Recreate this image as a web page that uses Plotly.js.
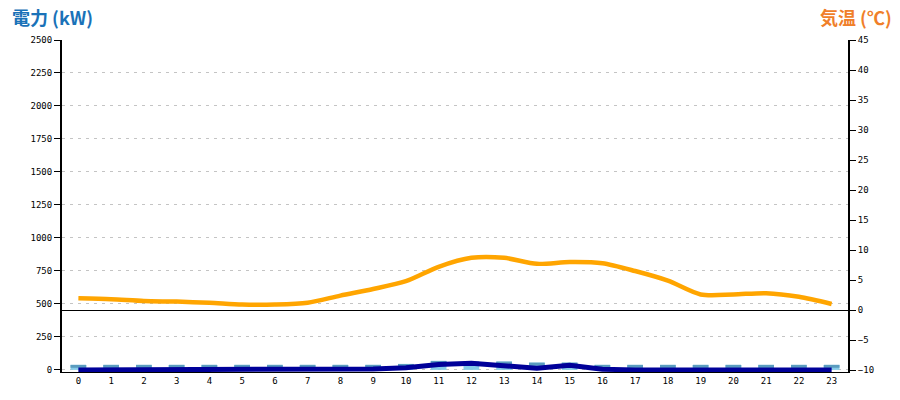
<!DOCTYPE html>
<html>
<head>
<meta charset="utf-8">
<script src="https://cdn.plot.ly/plotly-3.0.1.min.js"></script>
<style>html,body{margin:0;padding:0;background:#fff;}#chart{width:900px;height:400px;}</style>
</head>
<body>
<div id="chart"></div>
<script>
// Data
const hours = ["0","1","2","3","4","5","6","7","8","9","10","11","12","13","14","15","16","17","18","19","20","21","22","23"];
const temperature = [1.95,1.8,1.5,1.4,1.2,0.9,0.9,1.2,2.4,3.5,4.8,7.2,8.7,8.7,7.7,8.0,7.8,6.5,4.9,2.6,2.6,2.8,2.2,1.0];
const power = [0,0,0,0,0,0,0,0,0,7,17,40,50,30,12,35,5,0,0,0,0,0,0,0];
const barValues = [38,38,38,38,38,38,38,38,38,38,45,68,63,63,55,55,38,38,38,38,38,38,38,38];
const capHeight = 22;
const capValues = barValues.map(() => capHeight);
const capBase = barValues.map(v => v - capHeight);
const leftTicks = [0,250,500,750,1000,1250,1500,1750,2000,2250,2500];
const rightTicks = [-10,-5,0,5,10,15,20,25,30,35,40,45];

const tickFont = {family: "DejaVu Sans Mono", size: 9, color: "#000"};

const traces = [
  {type: "bar", x: hours, y: barValues, marker: {color: "#86cbe8"}, width: 0.48, hoverinfo: "skip", yaxis: "y"},
  {type: "bar", x: hours, y: capValues, base: capBase, marker: {color: "#5a9cbf"}, width: 0.48, hoverinfo: "skip", yaxis: "y"},
  {type: "scatter", mode: "lines", x: hours, y: power, line: {color: "#000099", width: 5}, yaxis: "y"},
  {type: "scatter", mode: "lines", x: hours, y: temperature, line: {color: "#FFA500", width: 4.5, shape: "spline", smoothing: 0.8}, yaxis: "y2"}
];

const layout = {
  width: 900, height: 400,
  margin: {l: 62, r: 52, t: 40, b: 28, pad: 0},
  paper_bgcolor: "#fff", plot_bgcolor: "#fff",
  showlegend: false,
  barmode: "overlay",
  xaxis: {
    type: "category", range: [-0.5, 23.5],
    tickvals: hours, ticktext: hours,
    showline: true, linecolor: "#000", linewidth: 1,
    showgrid: false, zeroline: false, ticks: "",
    tickfont: {family: "DejaVu Sans Mono", size: 9, color: "#000"},
    fixedrange: true
  },
  yaxis: {
    range: [-16, 2500], tickvals: leftTicks, ticktext: leftTicks.map(String),
    showline: true, linecolor: "#000", linewidth: 2,
    ticks: "outside", ticklen: 6, tickwidth: 1, tickcolor: "#000",
    showgrid: true, gridcolor: "#c4c4c4", gridwidth: 1, griddash: "3px,5px",
    zeroline: false, tickfont: tickFont
  },
  yaxis2: {
    range: [-10.33, 45], tickvals: rightTicks, ticktext: rightTicks.map(v => v < 0 ? "\u2212" + Math.abs(v) : String(v)),
    overlaying: "y", side: "right",
    showline: true, linecolor: "#000", linewidth: 2,
    ticks: "outside", ticklen: 6, tickwidth: 1, tickcolor: "#000",
    showgrid: false, zeroline: true, zerolinecolor: "#000", zerolinewidth: 1,
    tickfont: tickFont
  },
  annotations: [
    {text: "<b>電力 (kW)</b>", xref: "paper", yref: "paper", x: -52/786, y: 1.0 + 23/332, xanchor: "left", yanchor: "middle", showarrow: false,
     font: {family: "Noto Sans CJK JP", size: 18, color: "#1a72b8"}},
    {text: "<b>気温 (℃)</b>", xref: "paper", yref: "paper", x: 1.0 + 46/786, y: 1.0 + 23/332, xanchor: "right", yanchor: "middle", showarrow: false,
     font: {family: "Noto Sans CJK JP", size: 18, color: "#f07f2a"}}
  ]
};

Plotly.newPlot("chart", traces, layout, {displayModeBar: false, staticPlot: true});
</script>
</body>
</html>
